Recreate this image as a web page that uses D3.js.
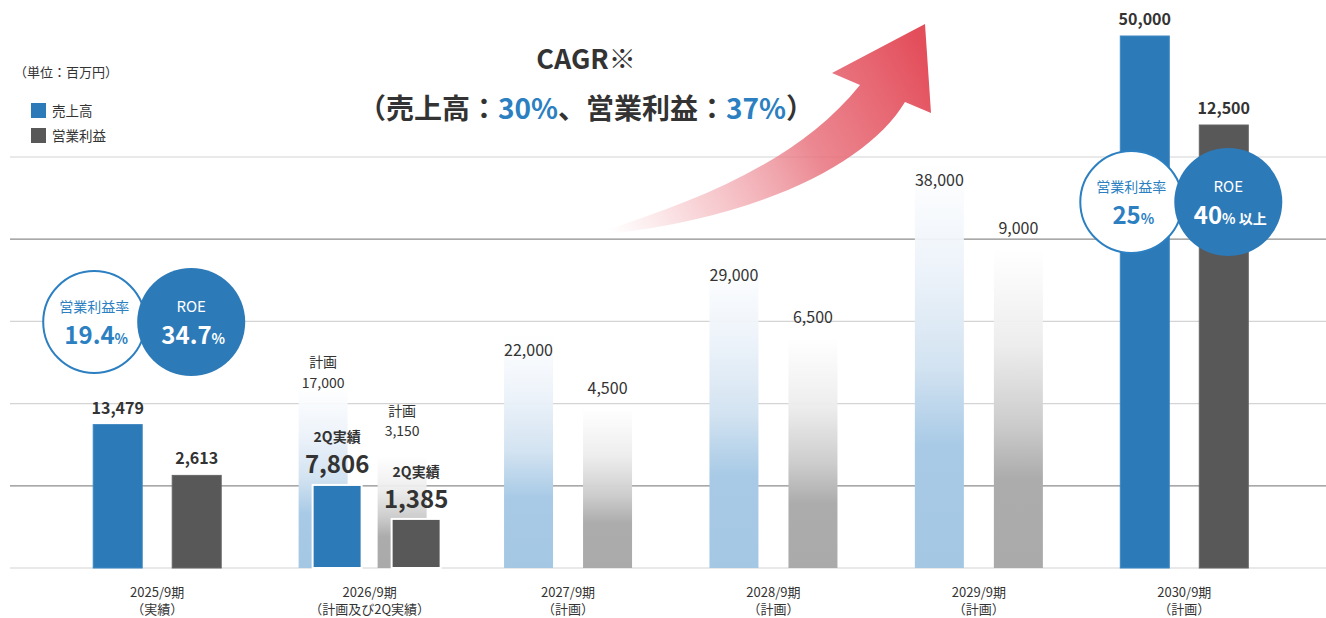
<!DOCTYPE html>
<html>
<head>
<meta charset="utf-8">
<script src="https://cdn.jsdelivr.net/npm/d3@7"></script>
<style>
  body { margin: 0; background: #fff; }
  svg { display: block; font-family: "Noto Sans CJK JP", "Noto Sans", sans-serif; }
</style>
</head>
<body>
<div class="canvas"></div>
<script>
// ---------- data ----------
const categories = ['2025/9期', '2026/9期', '2027/9期', '2028/9期', '2029/9期', '2030/9期'];
const subLabels = ['（実績）', '（計画及び2Q実績）', '（計画）', '（計画）', '（計画）', '（計画）'];
const revenue = [13479, 17000, 22000, 29000, 38000, 50000];   // 売上高
const profit = [2613, 3150, 4500, 6500, 9000, 12500];          // 営業利益
const solid = [true, false, false, false, false, true];         // drawn as full colour bars
const q2Index = 1;                 // 2026/9期 has 2Q actuals on top of plan
const q2Revenue = 7806;
const q2Profit = 1385;
const opMargin = ['19.4', null, null, null, null, '25'];       // 営業利益率 (%)
const roe = ['34.7', null, null, null, null, '40'];             // ROE (%)
const roeSuffix = ['', null, null, null, null, ' 以上'];
const cagrRevenue = '30%';
const cagrProfit = '37%';

const dims = { width: 1326, height: 618 };
const blue = '#2d7ab8';
const textBlue = '#2c7fc1';
const dark = '#333';

const svg = d3.select('.canvas')
  .append('svg')
  .attr('width', dims.width)
  .attr('height', dims.height);

// ---------- scales ----------
const x = d3.scaleBand().domain(categories).range([54.5, 1287]);
const center = d => x(d) + x.bandwidth() / 2;
const yRev = d3.scaleLinear().domain([0, 50000]).range([568, 36]);
const yProf = d3.scaleLinear().domain([0, 12500]).range([568, 125]);
const grid = d3.scaleLinear().domain([0, 5]).range([568, 157]);
const barW = 49;
const q2Shift = 14;
const fmt = d3.format(',');

// ---------- gradients ----------
const defs = svg.append('defs');
const vGrad = (id, stops) => {
  const g = defs.append('linearGradient').attr('id', id)
    .attr('x1', 0).attr('y1', 0).attr('x2', 0).attr('y2', 1);
  stops.forEach(s => g.append('stop').attr('offset', s[0]).attr('stop-color', s[1]).attr('stop-opacity', s[2] ?? 1));
};
vGrad('revGrad', [[0, '#ffffff', 0.9], [0.25, '#edf3fa', 0.95], [0.5, '#d3e3f1'], [0.7, '#a8cae6'], [1, '#a4c7e4']]);
vGrad('profGrad', [[0, '#ffffff', 0.9], [0.3, '#ececec', 0.95], [0.55, '#cccccc'], [0.72, '#acacac'], [1, '#aaaaaa']]);

const arrowGrad = defs.append('linearGradient').attr('id', 'arrowGrad')
  .attr('gradientUnits', 'userSpaceOnUse')
  .attr('x1', 610).attr('y1', 232).attr('x2', 930).attr('y2', 60);
[[0, '#f2a7ae', 0], [0.25, '#ef9ba3', 0.45], [0.6, '#e8737e', 0.85], [1, '#e34e5b', 1]]
  .forEach(s => arrowGrad.append('stop').attr('offset', s[0]).attr('stop-color', s[1]).attr('stop-opacity', s[2]));

// ---------- gridlines ----------
svg.append('g').selectAll('line')
  .data(d3.range(6))
  .join('line')
  .attr('x1', 10).attr('x2', dims.width)
  .attr('y1', d => grid(d)).attr('y2', d => grid(d))
  .attr('stroke', d => (d === 1 || d === 4) ? '#8d8d8d' : '#d4d4d4')
  .attr('stroke-width', 1.2);

// ---------- bars ----------
const bars = svg.append('g');
categories.forEach((cat, i) => {
  const c = center(cat);
  bars.append('rect')
    .attr('x', c - 64).attr('width', barW)
    .attr('y', yRev(revenue[i])).attr('height', yRev(0) - yRev(revenue[i]))
    .attr('fill', solid[i] ? blue : 'url(#revGrad)')
    .attr('stroke', solid[i] ? '#3f88c2' : 'none');
  bars.append('rect')
    .attr('x', c + 15).attr('width', barW)
    .attr('y', yProf(profit[i])).attr('height', yProf(0) - yProf(profit[i]))
    .attr('fill', solid[i] ? '#585858' : 'url(#profGrad)')
    .attr('stroke', solid[i] ? '#666' : 'none');
});

// 2Q actual bars
const cq = center(categories[q2Index]);
bars.append('rect')
  .attr('x', cq - 64 + q2Shift).attr('width', barW)
  .attr('y', yRev(q2Revenue)).attr('height', yRev(0) - yRev(q2Revenue))
  .attr('fill', blue).attr('stroke', '#fff').attr('stroke-width', 2);
bars.append('rect')
  .attr('x', cq + 15 + q2Shift).attr('width', barW)
  .attr('y', yProf(q2Profit)).attr('height', yProf(0) - yProf(q2Profit))
  .attr('fill', '#585858').attr('stroke', '#fff').attr('stroke-width', 2);

// ---------- value labels ----------
const labels = svg.append('g').attr('fill', dark).attr('text-anchor', 'middle');
categories.forEach((cat, i) => {
  const c = center(cat);
  const rx = c - 64 + barW / 2, px = c + 15 + barW / 2;
  if (solid[i]) {
    labels.append('text').attr('x', rx).attr('y', yRev(revenue[i]) - 11)
      .attr('font-size', 16).attr('font-weight', 700).text(fmt(revenue[i]));
    labels.append('text').attr('x', px).attr('y', yProf(profit[i]) - 11)
      .attr('font-size', 16).attr('font-weight', 700).text(fmt(profit[i]));
  } else if (i === q2Index) {
    labels.append('text').attr('x', rx).attr('y', yRev(revenue[i]) - 20)
      .attr('font-size', 14).text('計画');
    labels.append('text').attr('x', rx).attr('y', yRev(revenue[i]) + 1)
      .attr('font-size', 14).text(fmt(revenue[i]));
    labels.append('text').attr('x', px).attr('y', yProf(profit[i]) - 40)
      .attr('font-size', 14).text('計画');
    labels.append('text').attr('x', px).attr('y', yProf(profit[i]) - 20)
      .attr('font-size', 14).text(fmt(profit[i]));
    const qrx = rx + q2Shift, qpx = px + q2Shift;
    labels.append('text').attr('x', qrx).attr('y', yRev(q2Revenue) - 43)
      .attr('font-size', 14).attr('font-weight', 700).text('2Q実績');
    labels.append('text').attr('x', qrx).attr('y', yRev(q2Revenue) - 12)
      .attr('font-size', 24).attr('font-weight', 700).text(fmt(q2Revenue));
    labels.append('text').attr('x', qpx).attr('y', yProf(q2Profit) - 42)
      .attr('font-size', 14).attr('font-weight', 700).text('2Q実績');
    labels.append('text').attr('x', qpx).attr('y', yProf(q2Profit) - 11)
      .attr('font-size', 24).attr('font-weight', 700).text(fmt(q2Profit));
  } else {
    labels.append('text').attr('x', rx).attr('y', yRev(revenue[i]) + 22)
      .attr('font-size', 16).text(fmt(revenue[i]));
    labels.append('text').attr('x', px).attr('y', yProf(profit[i]) - 15)
      .attr('font-size', 16).text(fmt(profit[i]));
  }
});

// ---------- category labels ----------
const cats = svg.append('g').attr('fill', dark).attr('text-anchor', 'middle').attr('font-size', 13);
categories.forEach((cat, i) => {
  const c = center(cat);
  const left = c - 64;
  const right = (i === q2Index ? c + 15 + q2Shift : c + 15) + barW;
  const mx = (left + right) / 2;
  cats.append('text').attr('x', mx).attr('y', 597).text(cat);
  cats.append('text').attr('x', mx).attr('y', 614).text(subLabels[i]);
});

// ---------- arrow ----------
svg.append('path')
  .attr('d', 'M603,231 C700,200 800,160 860,85 L832,73 L925,24 L931,113 L905,102 C870,160 770,215 610,234 Z')
  .attr('fill', 'url(#arrowGrad)');

// ---------- title ----------
const title = svg.append('g').attr('text-anchor', 'middle').attr('fill', dark)
  .attr('font-weight', 700);
title.append('text').attr('x', 586).attr('y', 69).attr('font-size', 27).text('CAGR※');
const t2 = title.append('text').attr('x', 586).attr('y', 119).attr('font-size', 28);
t2.append('tspan').text('（売上高：');
t2.append('tspan').attr('fill', textBlue).text(cagrRevenue);
t2.append('tspan').text('、営業利益：');
t2.append('tspan').attr('fill', textBlue).text(cagrProfit);
t2.append('tspan').text('）');

// ---------- legend ----------
const legend = svg.append('g').attr('fill', dark);
legend.append('text').attr('x', 14).attr('y', 77).attr('font-size', 13).text('（単位：百万円）');
[['売上高', blue], ['営業利益', '#585858']].forEach((d, i) => {
  legend.append('rect').attr('x', 31).attr('y', 103 + i * 25).attr('width', 15).attr('height', 15).attr('fill', d[1]);
  legend.append('text').attr('x', 52).attr('y', 116 + i * 25).attr('font-size', 13.5).text(d[0]);
});

// ---------- ratio circles ----------
const circleLayout = { 0: { dx: -63, y: 322 }, 5: { dx: -53, y: 202 } };
const ratios = svg.append('g').attr('text-anchor', 'middle');
categories.forEach((cat, i) => {
  if (opMargin[i] == null) return;
  const cx1 = center(cat) + circleLayout[i].dx;
  const cx2 = cx1 + 97;
  const cy = circleLayout[i].y;
  ratios.append('circle').attr('cx', cx1).attr('cy', cy).attr('r', 51)
    .attr('fill', '#fff').attr('stroke', textBlue).attr('stroke-width', 2);
  ratios.append('circle').attr('cx', cx2).attr('cy', cy).attr('r', 54).attr('fill', blue);

  ratios.append('text').attr('x', cx1).attr('y', cy - 10).attr('fill', textBlue)
    .attr('font-size', 14).text('営業利益率');
  const m = ratios.append('text').attr('x', cx1 + 2).attr('y', cy + 22).attr('fill', textBlue).attr('font-weight', 700);
  m.append('tspan').attr('font-size', 24).text(opMargin[i]);
  m.append('tspan').attr('font-size', 14).text('%');

  ratios.append('text').attr('x', cx2).attr('y', cy - 10).attr('fill', '#fff')
    .attr('font-size', 15).text('ROE');
  const r = ratios.append('text').attr('x', cx2 + 2).attr('y', cy + 22).attr('fill', '#fff').attr('font-weight', 700);
  r.append('tspan').attr('font-size', 24).text(roe[i]);
  r.append('tspan').attr('font-size', 14).text('%' + roeSuffix[i]);
});
</script>
</body>
</html>
